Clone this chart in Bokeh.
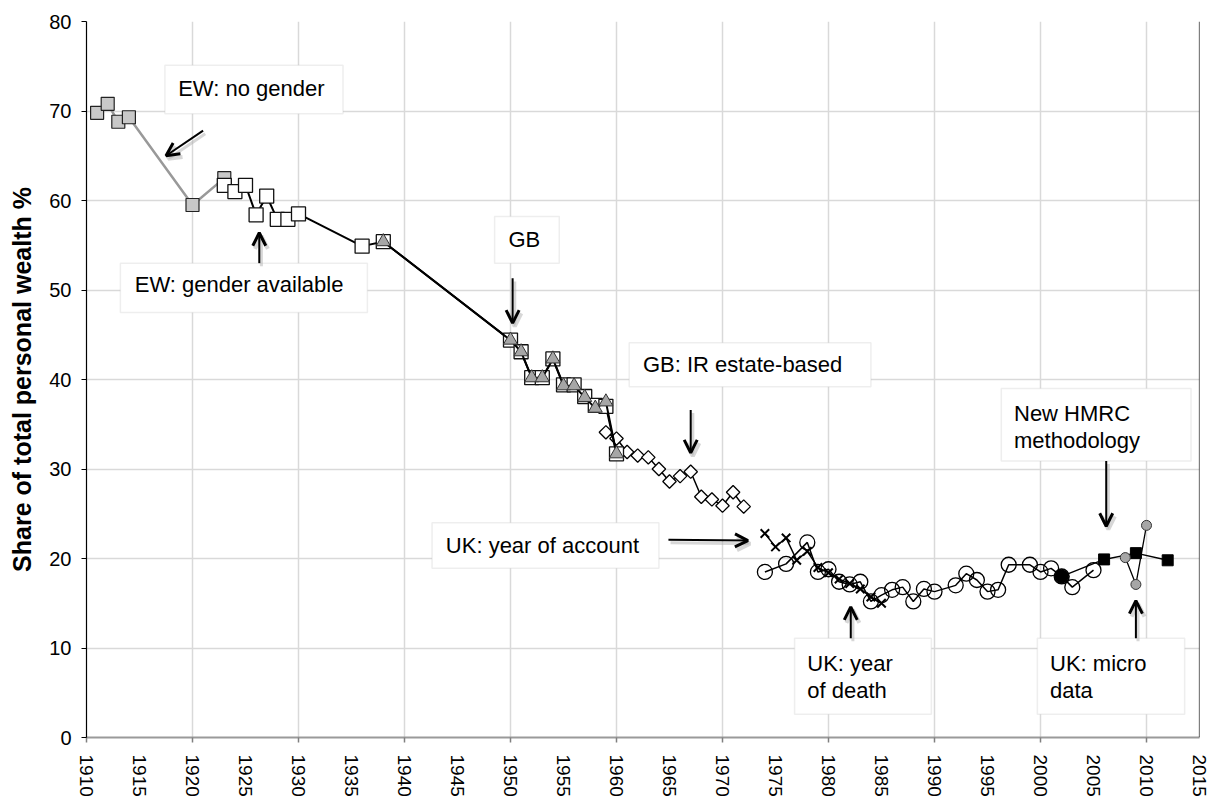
from bokeh.plotting import figure
from bokeh.models import FixedTicker, BoxAnnotation, Label, Arrow, OpenHead, Span, Range1d
from bokeh.embed import file_html
from bokeh.resources import INLINE

# ---------------- data ----------------
ew_years = [1911, 1912, 1913, 1914, 1920, 1923]
ew_vals = [69.8, 70.8, 68.8, 69.3, 59.5, 62.5]

ewg_years = [1923, 1924, 1925, 1926, 1927, 1928, 1929, 1930, 1936, 1938,
             1950, 1951, 1952, 1953, 1954, 1955, 1956, 1957, 1958, 1959, 1960]
ewg_vals = [61.7, 61.0, 61.7, 58.4, 60.5, 57.9, 57.9, 58.5, 54.9, 55.4,
            44.4, 43.1, 40.2, 40.2, 42.3, 39.4, 39.4, 38.1, 37.1, 37.0, 31.7]

gb_years = [1938, 1950, 1951, 1952, 1953, 1954, 1955, 1956, 1957, 1958, 1959, 1960]
gb_vals = [55.4, 44.4, 43.1, 40.2, 40.2, 42.3, 39.3, 39.3, 38.0, 36.8, 37.5, 31.7]

ir_years = [1959, 1960, 1961, 1962, 1963, 1964, 1965, 1966, 1967, 1968, 1969, 1970, 1971, 1972]
ir_vals = [34.1, 33.4, 31.9, 31.5, 31.3, 30.0, 28.6, 29.2, 29.7, 26.9, 26.6, 25.9, 27.4, 25.8]

yoa_years = [1974, 1975, 1976, 1977, 1978, 1979, 1980, 1981, 1982, 1983, 1984, 1985]
yoa_vals = [22.8, 21.3, 22.3, 19.8, 20.8, 19.0, 18.4, 17.7, 17.2, 16.6, 15.7, 15.0]

yod_years = [1974, 1976, 1978, 1979, 1980, 1981, 1982, 1983, 1984, 1985, 1986, 1987, 1988,
             1989, 1990, 1992, 1993, 1994, 1995, 1996, 1997, 1999, 2000, 2001, 2002, 2003, 2005]
yod_vals = [18.5, 19.4, 21.8, 18.5, 18.8, 17.4, 17.1, 17.4, 15.2, 15.9, 16.5, 16.8, 15.2,
            16.6, 16.3, 17.0, 18.3, 17.6, 16.3, 16.5, 19.3, 19.3, 18.5, 18.9, 18.0, 16.8, 18.7]

link_year = [2002]
link_val = [18.0]

hmrc_years = [2006, 2009, 2012]
hmrc_vals = [19.9, 20.6, 19.8]

micro_years = [2008, 2009, 2010]
micro_vals = [20.1, 17.1, 23.7]

x_ticks = list(range(1910, 2016, 5))
x_grid = list(range(1920, 2011, 10))
y_ticks = list(range(0, 81, 10))

FONT = "Liberation Sans"

p = figure(width=1210, height=799, x_range=Range1d(1910, 2015), y_range=Range1d(0, 80),
           output_backend="svg", toolbar_location=None,
           min_border_left=86, min_border_right=11, min_border_top=21, min_border_bottom=61)
p.outline_line_color = None
p.background_fill_color = "white"

# axes
p.xaxis.ticker = FixedTicker(ticks=x_ticks, minor_ticks=x_ticks[::2])
p.xaxis.major_tick_out = 0
p.xaxis.major_tick_in = 0
p.xaxis.minor_tick_out = 5
p.xaxis.minor_tick_in = 0
p.xaxis.minor_tick_line_color = "#808080"
p.xaxis.minor_tick_line_width = 1.5
p.xaxis.axis_line_color = "#9a9a9a"
p.xaxis.axis_line_width = 2
p.xaxis.major_label_orientation = "vertical"
p.xaxis.major_label_standoff = 12
p.xaxis.major_label_text_font = FONT
p.xaxis.major_label_text_font_size = "19px"
p.xaxis.major_label_text_color = "black"

p.yaxis.ticker = FixedTicker(ticks=y_ticks)
p.yaxis.minor_tick_line_color = None
p.yaxis.major_tick_out = 5
p.yaxis.major_tick_in = 0
p.yaxis.major_tick_line_color = "black"
p.yaxis.axis_line_color = "black"
p.yaxis.axis_line_width = 1.2
p.yaxis.major_label_standoff = 10
p.yaxis.major_label_text_font = FONT
p.yaxis.major_label_text_font_size = "20px"
p.yaxis.major_label_text_color = "black"
p.yaxis.axis_label = "Share of total personal wealth %"
p.yaxis.axis_label_text_font = FONT
p.yaxis.axis_label_text_font_style = "bold"
p.yaxis.axis_label_text_font_size = "25px"
p.yaxis.axis_label_text_color = "black"
p.yaxis.axis_label_standoff = 10

p.xgrid.ticker = FixedTicker(ticks=x_grid)
p.ygrid.ticker = FixedTicker(ticks=y_ticks[1:])
p.xgrid.grid_line_color = "#d9d9d9"
p.ygrid.grid_line_color = "#d9d9d9"
p.xgrid.grid_line_width = 1.5
p.ygrid.grid_line_width = 1.5

p.add_layout(Span(location=2015, dimension="height", line_color="black", line_width=1.2))

# ---------------- series ----------------
p.line(ew_years, ew_vals, line_color="#999999", line_width=2.5)
p.scatter(ew_years, ew_vals, marker="square", size=13, fill_color="#c8c8c8",
          line_color="#222222", line_width=1.2)

p.line(ir_years, ir_vals, line_color="black", line_width=1.5)
p.scatter(ir_years, ir_vals, marker="square", angle=0.785398, size=9.5, fill_color="white",
          line_color="black", line_width=1.3)

p.line(ewg_years, ewg_vals, line_color="black", line_width=2)
p.scatter(ewg_years, ewg_vals, marker="square", size=14, fill_color="white",
          line_color="#111111", line_width=1.3)

p.line(gb_years, gb_vals, line_color="black", line_width=2)
p.scatter(gb_years, gb_vals, marker="triangle", size=14, fill_color="#a6a6a6",
          line_color="#333333", line_width=1)

p.line(yoa_years, yoa_vals, line_color="black", line_width=1.5)
p.scatter(yoa_years, yoa_vals, marker="x", size=12, line_color="black", line_width=2)

p.line(yod_years, yod_vals, line_color="black", line_width=1.5)
p.scatter(yod_years, yod_vals, marker="circle", size=15, fill_color=None,
          line_color="black", line_width=1.3)

p.line(link_year + hmrc_years, link_val + hmrc_vals, line_color="black", line_width=1.5)
p.scatter(link_year, link_val, marker="circle", size=14, fill_color="black", line_color="black")
p.scatter(hmrc_years, hmrc_vals, marker="square", size=11, fill_color="black", line_color="black")

p.line(micro_years, micro_vals, line_color="black", line_width=1.3)
p.scatter(micro_years, micro_vals, marker="circle", size=10, fill_color="#a6a6a6",
          line_color="#333333", line_width=1)


# ---------------- annotations ----------------
def box(l, r, t, b):
    p.add_layout(BoxAnnotation(left=l, right=r, top=t, bottom=b, fill_color="white",
                               fill_alpha=1, line_color="#c8c8c8", line_width=1.5,
                               level="annotation"))


def text(x, y, s):
    p.add_layout(Label(x=x, y=y, text=s, text_font=FONT, text_font_size="22px",
                       text_color="black", text_baseline="middle", text_align="left",
                       level="annotation"))


def arrow(x0, y0, x1, y1):
    p.add_layout(Arrow(x_start=x0 + 0.2, y_start=y0 - 0.35, x_end=x1 + 0.2, y_end=y1 - 0.35,
                       line_color="#b0b0b0", line_alpha=0.5, line_width=3,
                       end=OpenHead(size=13, line_width=4, line_color="#b0b0b0", line_alpha=0.5),
                       level="annotation"))
    p.add_layout(Arrow(x_start=x0, y_start=y0, x_end=x1, y_end=y1,
                       line_color="black", line_width=2,
                       end=OpenHead(size=13, line_width=3, line_color="black"),
                       level="annotation"))


box(1917.4, 1934.2, 75.1, 69.7)
text(1918.65, 72.5, "EW: no gender")
arrow(1921.0, 67.8, 1917.5, 65.0)

box(1913.2, 1936.5, 53.0, 47.5)
text(1914.55, 50.6, "EW: gender available")
arrow(1926.3, 53.0, 1926.3, 56.4)

box(1948.5, 1954.6, 58.2, 53.0)
text(1949.8, 55.6, "GB")
arrow(1950.2, 51.3, 1950.2, 46.3)

box(1961.2, 1984.0, 44.1, 39.2)
text(1962.5, 41.7, "GB: IR estate-based")
arrow(1967.0, 36.6, 1967.0, 31.8)

box(1942.6, 1964.0, 24.0, 18.9)
text(1943.9, 21.4, "UK: year of account")
arrow(1964.9, 22.1, 1972.4, 22.0)

box(1976.8, 1989.7, 11.1, 2.6)
text(1978.0, 8.3, "UK: year")
text(1978.0, 5.2, "of death")
arrow(1982.1, 11.1, 1982.1, 14.6)

box(1999.7, 2013.6, 11.1, 2.6)
text(2000.9, 8.3, "UK: micro")
text(2000.9, 5.2, "data")
arrow(2009.0, 11.1, 2009.0, 15.3)

box(1996.3, 2014.2, 39.0, 30.9)
text(1997.5, 36.2, "New HMRC")
text(1997.5, 33.2, "methodology")
arrow(2006.2, 30.9, 2006.2, 23.6)

open("out.html", "w").write(file_html(p, INLINE))
